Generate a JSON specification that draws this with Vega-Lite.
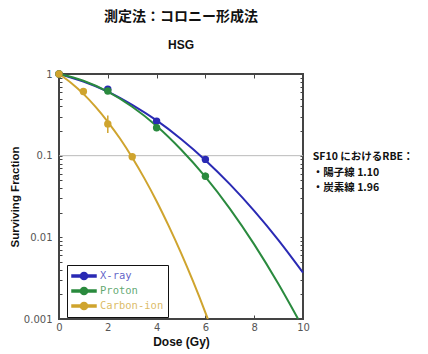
{
  "$schema": "https://vega.github.io/schema/vega-lite/v6.json",
  "width": 244,
  "height": 245,
  "autosize": {"type": "none"},
  "padding": {"left": 59, "top": 74, "right": 125, "bottom": 35},
  "background": "white",
  "title": {
    "text": "測定法：コロニー形成法",
    "subtitle": "HSG",
    "font": "Noto Sans CJK JP",
    "fontSize": 14,
    "fontWeight": "bold",
    "color": "#111",
    "subtitleFont": "Liberation Sans",
    "subtitleFontSize": 12,
    "subtitleFontWeight": "bold",
    "subtitleColor": "#111",
    "subtitlePadding": 16,
    "anchor": "middle",
    "offset": 18
  },
  "config": {
    "view": {"stroke": "#444", "strokeWidth": 2},
    "axis": {"labelFont": "DejaVu Sans", "labelColor": "#555", "labelFontSize": 10, "titleFont": "Liberation Sans", "titleFontWeight": "bold", "titleColor": "#111", "domain": false, "grid": false, "tickColor": "#444"}
  },
  "datasets": {
    "curves": [
      {"series": "X-ray", "dose": 0, "sf": 1},
      {"series": "X-ray", "dose": 1, "sf": 0.81},
      {"series": "X-ray", "dose": 2, "sf": 0.61},
      {"series": "X-ray", "dose": 3, "sf": 0.42},
      {"series": "X-ray", "dose": 4, "sf": 0.27},
      {"series": "X-ray", "dose": 5, "sf": 0.16},
      {"series": "X-ray", "dose": 6, "sf": 0.088},
      {"series": "X-ray", "dose": 7, "sf": 0.0448},
      {"series": "X-ray", "dose": 8, "sf": 0.0211},
      {"series": "X-ray", "dose": 9, "sf": 0.0092},
      {"series": "X-ray", "dose": 10, "sf": 0.0037},
      {"series": "Proton", "dose": 0, "sf": 1},
      {"series": "Proton", "dose": 1, "sf": 0.826},
      {"series": "Proton", "dose": 2, "sf": 0.607},
      {"series": "Proton", "dose": 3, "sf": 0.397},
      {"series": "Proton", "dose": 4, "sf": 0.231},
      {"series": "Proton", "dose": 5, "sf": 0.119},
      {"series": "Proton", "dose": 6, "sf": 0.055},
      {"series": "Proton", "dose": 7, "sf": 0.0225},
      {"series": "Proton", "dose": 8, "sf": 0.0082},
      {"series": "Proton", "dose": 9, "sf": 0.00266},
      {"series": "Proton", "dose": 9.5, "sf": 0.00145},
      {"series": "Proton", "dose": 9.8, "sf": 0.001},
      {"series": "Carbon-ion", "dose": 0, "sf": 1},
      {"series": "Carbon-ion", "dose": 0.5, "sf": 0.777},
      {"series": "Carbon-ion", "dose": 1, "sf": 0.571},
      {"series": "Carbon-ion", "dose": 1.5, "sf": 0.396},
      {"series": "Carbon-ion", "dose": 2, "sf": 0.26},
      {"series": "Carbon-ion", "dose": 2.5, "sf": 0.162},
      {"series": "Carbon-ion", "dose": 3, "sf": 0.095},
      {"series": "Carbon-ion", "dose": 3.5, "sf": 0.0527},
      {"series": "Carbon-ion", "dose": 4, "sf": 0.0277},
      {"series": "Carbon-ion", "dose": 4.5, "sf": 0.0137},
      {"series": "Carbon-ion", "dose": 5, "sf": 0.00644},
      {"series": "Carbon-ion", "dose": 5.5, "sf": 0.00286},
      {"series": "Carbon-ion", "dose": 6, "sf": 0.0012},
      {"series": "Carbon-ion", "dose": 6.1, "sf": 0.001}
    ],
    "points": [
      {"series": "X-ray", "dose": 0, "sf": 1, "lo": 1, "hi": 1},
      {"series": "X-ray", "dose": 2, "sf": 0.65, "lo": 0.62, "hi": 0.68},
      {"series": "X-ray", "dose": 4, "sf": 0.265, "lo": 0.255, "hi": 0.275},
      {"series": "X-ray", "dose": 6, "sf": 0.09, "lo": 0.085, "hi": 0.095},
      {"series": "Proton", "dose": 0, "sf": 1, "lo": 1, "hi": 1},
      {"series": "Proton", "dose": 2, "sf": 0.62, "lo": 0.59, "hi": 0.65},
      {"series": "Proton", "dose": 4, "sf": 0.22, "lo": 0.2, "hi": 0.245},
      {"series": "Proton", "dose": 6, "sf": 0.056, "lo": 0.052, "hi": 0.062},
      {"series": "Carbon-ion", "dose": 0, "sf": 1, "lo": 1, "hi": 1},
      {"series": "Carbon-ion", "dose": 1, "sf": 0.61, "lo": 0.56, "hi": 0.66},
      {"series": "Carbon-ion", "dose": 2, "sf": 0.245, "lo": 0.19, "hi": 0.31},
      {"series": "Carbon-ion", "dose": 3, "sf": 0.097, "lo": 0.092, "hi": 0.102}
    ],
    "notes": [
      {"text": "SF10 におけるRBE：", "dose": 10.4, "sf": 0.0975},
      {"text": "・陽子線 1.10", "dose": 10.4, "sf": 0.062},
      {"text": "・炭素線 1.96", "dose": 10.4, "sf": 0.0397}
    ]
  },
  "resolve": {"axis": {"x": "independent", "y": "independent"}},
  "layer": [
    {
      "data": {"values": [{"sf": 0.1}]},
      "mark": {"type": "rule", "color": "#bbbbbb", "strokeWidth": 1},
      "encoding": {
        "y": {"field": "sf", "type": "quantitative", "scale": {"type": "log", "domain": [0.001, 1]}, "axis": null}
      }
    },
    {
      "data": {"name": "curves"},
      "mark": {"type": "line", "strokeWidth": 2, "interpolate": "monotone"},
      "encoding": {
        "x": {"field": "dose", "type": "quantitative", "scale": {"domain": [0, 10], "nice": false},
          "axis": {"orient": "bottom", "title": "Dose (Gy)", "titleFontSize": 12, "titlePadding": 4, "values": [0, 2, 4, 6, 8, 10], "tickSize": -4, "labelPadding": 7, "labelFlush": false}},
        "y": {"field": "sf", "type": "quantitative", "scale": {"type": "log", "domain": [0.001, 1]},
          "axis": {"orient": "left", "title": "Surviving Fraction", "titleFontSize": 11.5, "titlePadding": 3,
            "values": [1, 0.9, 0.8, 0.7, 0.6, 0.5, 0.4, 0.3, 0.2, 0.1, 0.09, 0.08, 0.07, 0.06, 0.05, 0.04, 0.03, 0.02, 0.01, 0.009, 0.008, 0.007, 0.006, 0.005, 0.004, 0.003, 0.002, 0.001],
            "labelExpr": "datum.value == 1 ? '1' : datum.value == 0.1 ? '0.1' : datum.value == 0.01 ? '0.01' : datum.value == 0.001 ? '0.001' : ''",
            "tickSize": -3, "labelPadding": 10, "labelFlush": false}},
        "color": {"field": "series", "type": "nominal",
          "scale": {"domain": ["X-ray", "Proton", "Carbon-ion"], "range": ["#2a2ab4", "#2a8a3e", "#cfa42e"]}}
      }
    },
    {
      "data": {"name": "points"},
      "mark": {"type": "rule", "strokeWidth": 1.5},
      "encoding": {
        "x": {"field": "dose", "type": "quantitative", "scale": {"domain": [0, 10], "nice": false}, "axis": null},
        "y": {"field": "lo", "type": "quantitative", "scale": {"type": "log", "domain": [0.001, 1]}, "axis": null},
        "y2": {"field": "hi"},
        "color": {"field": "series", "type": "nominal",
          "scale": {"domain": ["X-ray", "Proton", "Carbon-ion"], "range": ["#2a2ab4", "#2a8a3e", "#cfa42e"]}}
      }
    },
    {
      "data": {"name": "points"},
      "mark": {"type": "point", "filled": true, "opacity": 1, "size": 55},
      "encoding": {
        "x": {"field": "dose", "type": "quantitative", "scale": {"domain": [0, 10], "nice": false},
          "axis": {"orient": "top", "title": null, "labels": false, "values": [2, 4, 6, 8], "tickSize": -4}},
        "y": {"field": "sf", "type": "quantitative", "scale": {"type": "log", "domain": [0.001, 1]},
          "axis": {"orient": "right", "title": null, "labels": false,
            "values": [0.9, 0.8, 0.7, 0.6, 0.5, 0.4, 0.3, 0.2, 0.1, 0.09, 0.08, 0.07, 0.06, 0.05, 0.04, 0.03, 0.02, 0.01, 0.009, 0.008, 0.007, 0.006, 0.005, 0.004, 0.003, 0.002], "tickSize": -3}},
        "color": {"field": "series", "type": "nominal",
          "scale": {"domain": ["X-ray", "Proton", "Carbon-ion"], "range": ["#2a2ab4", "#2a8a3e", "#cfa42e"]},
          "legend": {"orient": "none", "legendX": 8, "legendY": 191, "title": null,
            "strokeColor": "#111", "fillColor": "white", "padding": 4, "rowPadding": 1,
            "symbolType": "M-2,-0.17H-0.5V0.17H-2Z M0.5,-0.17H2V0.17H0.5Z M0.6,0A0.6,0.6 0 1,1 -0.6,0A0.6,0.6 0 1,1 0.6,0Z",
            "symbolSize": 144, "symbolOpacity": 1, "symbolOffset": 6, "labelOffset": 9,
            "labelFont": "DejaVu Sans Mono", "labelFontSize": 10.5, "labelFontWeight": "normal", "labelOpacity": 0.75,
            "labelColor": {"expr": "scale('color', datum.value)"}}
        }
      }
    },
    {
      "data": {"name": "notes"},
      "mark": {"type": "text", "align": "left", "baseline": "middle", "font": "Noto Sans CJK JP", "fontWeight": "bold", "fontSize": 10.5, "color": "#111"},
      "encoding": {
        "x": {"field": "dose", "type": "quantitative", "scale": {"domain": [0, 10], "nice": false}, "axis": null},
        "y": {"field": "sf", "type": "quantitative", "scale": {"type": "log", "domain": [0.001, 1]}, "axis": null},
        "text": {"field": "text"}
      }
    }
  ]
}
